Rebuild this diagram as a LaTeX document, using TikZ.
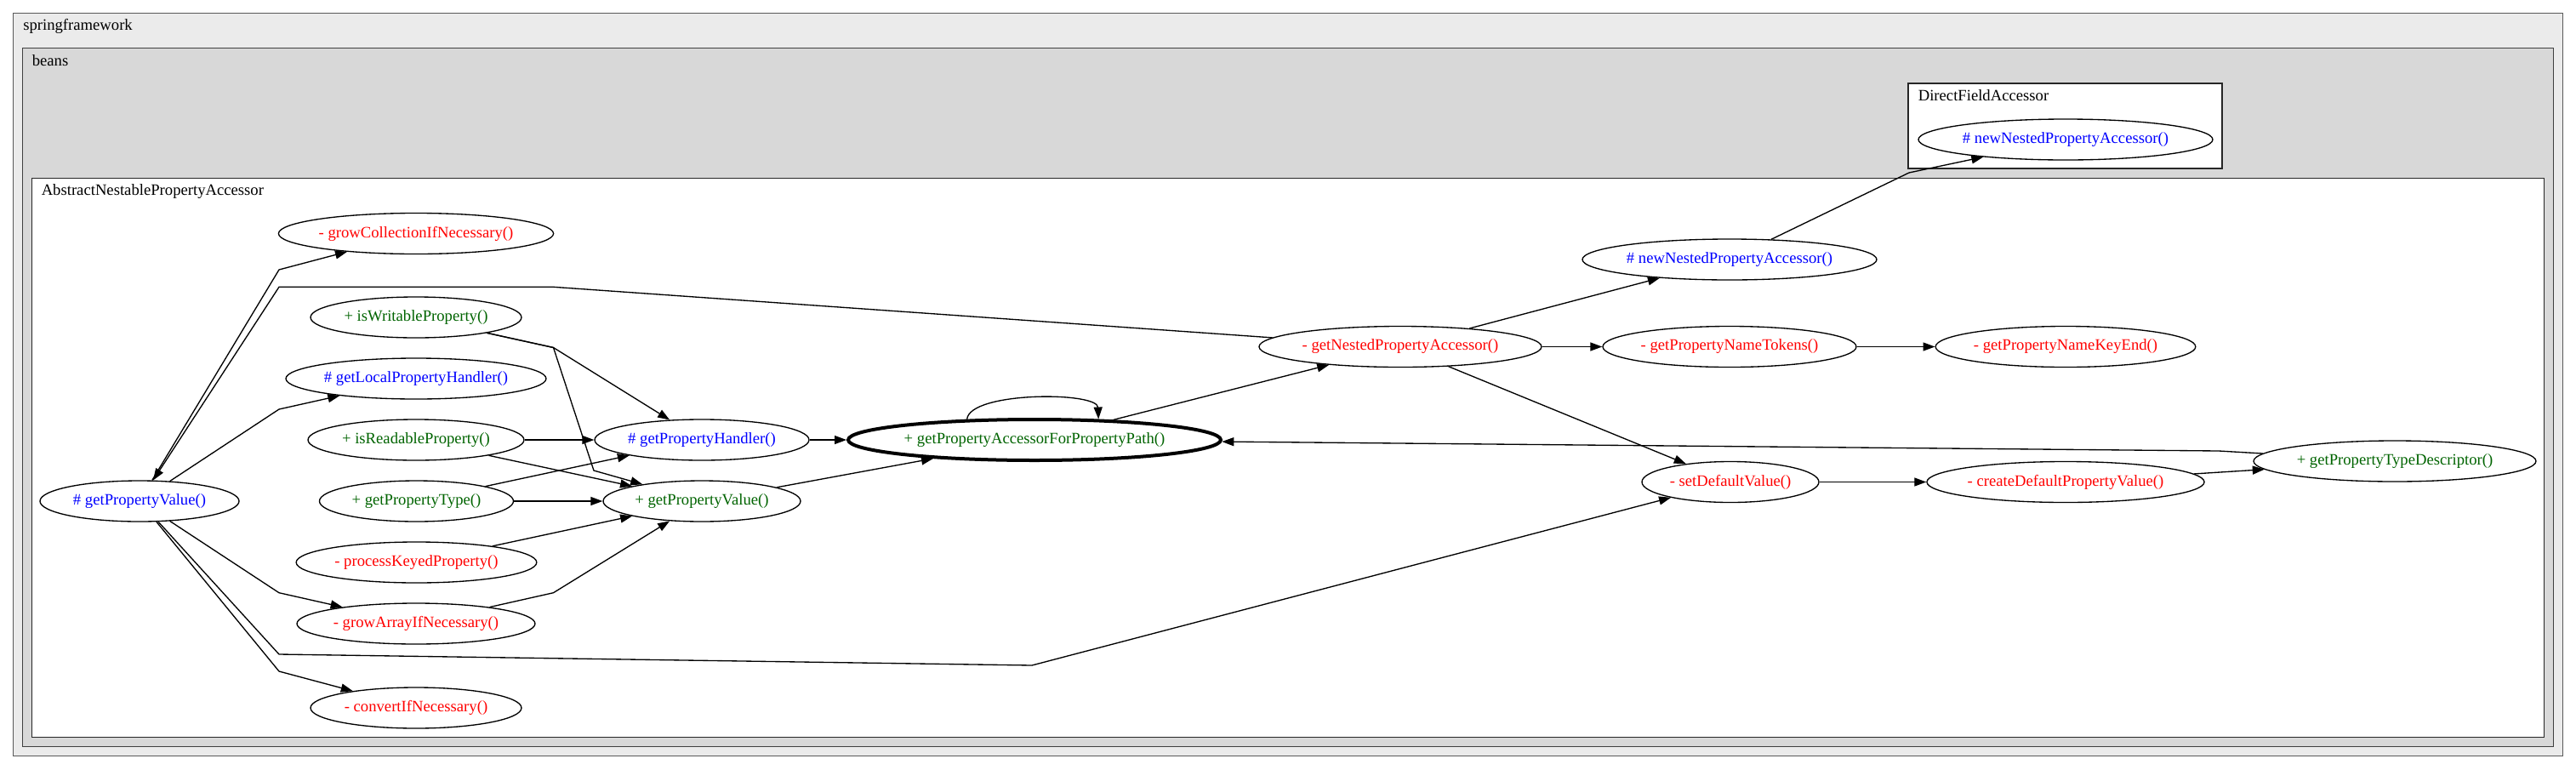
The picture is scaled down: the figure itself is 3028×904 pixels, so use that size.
\documentclass[tikz,border=0pt]{standalone}
\usepackage{fontspec}
\setmainfont{Liberation Serif}
\usetikzlibrary{shapes.geometric, arrows.meta}
\definecolor{pubcol}{HTML}{006400}
\definecolor{protcol}{HTML}{0000FF}
\definecolor{privcol}{HTML}{FF0000}
\definecolor{pkgout}{HTML}{EBEBEB}
\definecolor{pkgin}{HTML}{D8D8D8}
\tikzset{
  metodo/.style = {ellipse, draw, line width=1pt, minimum height=36pt, inner sep=0pt, font=\fontsize{14pt}{16pt}\selectfont},
  pubm/.style   = {metodo, text=pubcol},
  protm/.style  = {metodo, text=protcol},
  privm/.style  = {metodo, text=privcol},
  fulcro/.style = {pubm, line width=3pt},
  pkg/.style    = {draw, line width=0.8pt},
  lbl/.style    = {anchor=base west, inner sep=0pt, font=\fontsize{14pt}{16pt}\selectfont},
  e/.style      = {line width=1pt, -{Triangle[length=10.5pt, width=7.5pt]}}
}

\begin{document}
\begin{tikzpicture}[x=0.75pt, y=-0.75pt]
  \useasboundingbox (0,0) rectangle (3028,904);

  % package e classi
  \draw[pkg, draw=black!65, fill=pkgout] (15.3,15.3) rectangle (3012.7,888.3);
  \node[lbl] (lspring) at (27,35.5) {springframework};
  \draw[pkg, draw=black!75, fill=pkgin] (26.3,56.7) rectangle (3001.7,877.3);
  \node[lbl] (lbeans) at (37.5,77) {beans};
  \draw[pkg, draw=black!85, fill=white] (2243,98) rectangle (2612,198);
  \node[lbl] (ldfa) at (2254.5,118.3) {DirectFieldAccessor};
  \draw[pkg, draw=black!85, fill=white] (37.2,209.3) rectangle (2990.7,866.7);
  \node[lbl] (lanpa) at (48.5,229.5) {AbstractNestablePropertyAccessor};

  % colonna sinistra
  \node[protm, minimum width=175.5pt] (gpvp) at (164,589) {\# getPropertyValue()};
  \node[privm, minimum width=241.5pt] (gci)  at (489,274.5) {- growCollectionIfNecessary()};
  \node[pubm,  minimum width=186pt]   (iwp)  at (489,373) {+ isWritableProperty()};
  \node[protm, minimum width=229.5pt] (glph) at (489,445) {\# getLocalPropertyHandler()};
  \node[pubm,  minimum width=190.5pt] (irp)  at (489,517) {+ isReadableProperty()};
  \node[pubm,  minimum width=171pt]   (gpt)  at (489.5,589) {+ getPropertyType()};
  \node[privm, minimum width=212pt]   (pkp)  at (489.5,661) {- processKeyedProperty()};
  \node[privm, minimum width=210pt]   (gaip) at (489,733) {- growArrayIfNecessary()};
  \node[privm, minimum width=186pt]   (cin)  at (489,832) {- convertIfNecessary()};

  % centro
  \node[protm, minimum width=189pt]   (gph)    at (825,517) {\# getPropertyHandler()};
  \node[pubm,  minimum width=174pt]   (gpv)    at (825,589) {+ getPropertyValue()};
  \node[fulcro, minimum width=328.5pt] (gpafpp) at (1216,517) {+ getPropertyAccessorForPropertyPath()};

  % destra
  \node[privm, minimum width=249pt]   (gnpa)   at (1646,407.5) {- getNestedPropertyAccessor()};
  \node[protm, minimum width=259.5pt] (nnpa)   at (2033,305) {\# newNestedPropertyAccessor()};
  \node[privm, minimum width=223.5pt] (gpnt)   at (2033,407.5) {- getPropertyNameTokens()};
  \node[privm, minimum width=228pt]   (gpnke)  at (2428,407.5) {- getPropertyNameKeyEnd()};
  \node[protm, minimum width=259.5pt] (dfnnpa) at (2428,164) {\# newNestedPropertyAccessor()};
  \node[privm, minimum width=156pt]   (sdv)    at (2034,566.5) {- setDefaultValue()};
  \node[privm, minimum width=243pt]   (cdpv)   at (2428,566.5) {- createDefaultPropertyValue()};
  \node[pubm,  minimum width=249pt]   (gptd)   at (2815,542) {+ getPropertyTypeDescriptor()};

  % ---------------- CHIAMATE ----------------
  \draw[e] (gpvp) -- (328,317) -- (gci);
  \draw[e] (gpvp) -- (328,481) -- (glph);
  \draw[e] (gpvp) -- (328,696.7) -- (gaip);
  \draw[e] (gpvp) -- (328,789) -- (cin);
  \draw[e] (gpvp) -- (328,769) -- (1213,782) -- (sdv);
  \draw[e] (gnpa) -- (650.5,337.3) -- (328,337.3) -- (gpvp);

  \draw[e] (iwp) -- (650.5,408.5) -- (gph);
  \draw[e] (iwp) -- (650.5,408.5) -- (698,553) -- (gpv);
  \draw[e] (irp) -- (gph);
  \draw[e] (irp) -- (gpv);
  \draw[e] (gpt) -- (gph);
  \draw[e] (gpt) -- (gpv);
  \draw[e] (pkp) -- (gpv);
  \draw[e] (gaip) -- (650.5,696.7) -- (gpv);

  \draw[e] (gph) -- (gpafpp);
  \draw[e] (gpv) -- (gpafpp);
  \draw[e] (gpafpp.163) .. controls (1140,460) and (1290,460) .. (gpafpp.18);
  \draw[e] (gpafpp) -- (gnpa);

  \draw[e] (gnpa) -- (nnpa);
  \draw[e] (gnpa) -- (gpnt);
  \draw[e] (gpnt) -- (gpnke);
  \draw[e] (gnpa) -- (sdv);
  \draw[e] (nnpa) -- (2244,203) -- (dfnnpa);
  \draw[e] (sdv) -- (cdpv);
  \draw[e] (cdpv) -- (gptd);
  \draw[e] (gptd) -- (2608,530) -- (gpafpp);

\end{tikzpicture}
\end{document}
